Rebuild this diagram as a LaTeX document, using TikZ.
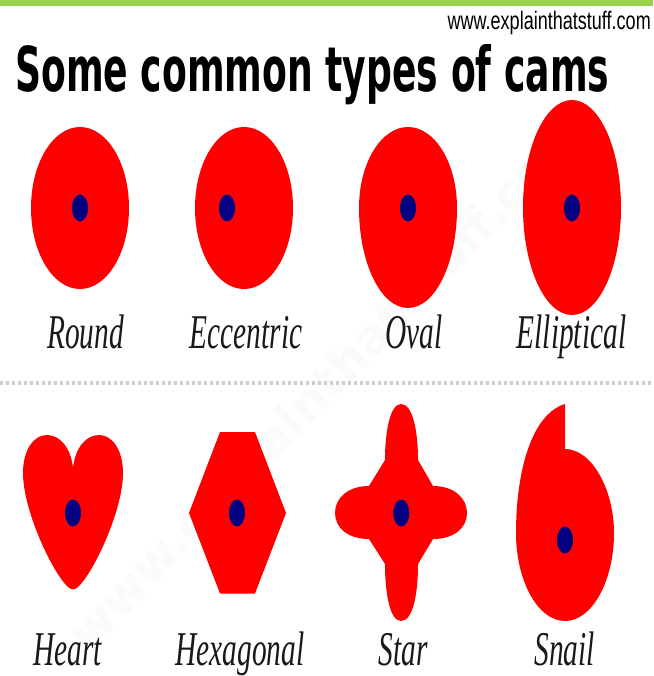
\documentclass[tikz,border=0pt]{standalone}
\usepackage{graphicx}
\usepackage{fontspec}
\setmainfont{Liberation Serif}
\newfontfamily\titlefont{DejaVu Sans}
\newfontfamily\urlfont{Liberation Sans}
\definecolor{camred}{RGB}{255,0,0}
\definecolor{hubblue}{RGB}{0,0,128}
\definecolor{topgreen}{RGB}{151,211,75}
\definecolor{markgrey}{RGB}{249,251,250}
\definecolor{sepgrey}{RGB}{205,205,205}
\newcommand{\lab}[1]{\scalebox{0.89}[1.47]{\fontsize{33}{33}\selectfont\itshape #1}}
\tikzset{
  camshape/.style={fill=camred,draw=none},
  hub/.style={fill=hubblue,draw=none},
  camlabel/.style={inner sep=0pt,anchor=base,black!90}
}
\begin{document}
\begin{tikzpicture}[x=1pt,y=-1pt]
\useasboundingbox (0,0) rectangle (653,676);
\fill[white] (0,0) rectangle (653,676);
\node[rotate=46,text=markgrey,inner sep=0pt] (wm) at (330,385) {\resizebox{720pt}{!}{\titlefont\bfseries www.explainthatstuff.com}};
\fill[topgreen] (0,0) rectangle (653,6);
\node[anchor=east,inner sep=0pt] (url) at (651,23) {\scalebox{0.82}[1.15]{\urlfont\fontsize{22}{22}\selectfont www.explainthatstuff.com}};
\node[anchor=base west,inner sep=0pt] (title) at (15,92) {\resizebox{594pt}{47pt}{\titlefont\bfseries\fontsize{44}{44}\selectfont Some common types of cams}};
% round
\fill[camshape] (80,208) ellipse [x radius=49,y radius=81];
\fill[hub] (80,208) ellipse [x radius=8,y radius=13.5];
\node[camlabel] (l1) at (85.5,348) {\lab{Round}};
% eccentric
\fill[camshape] (244,208) ellipse [x radius=49,y radius=81];
\fill[hub] (227,208) ellipse [x radius=8,y radius=13.5];
\node[camlabel] (l2) at (246,348) {\lab{Eccentric}};
% oval
\fill[camshape] (359,208) arc [start angle=180,end angle=360,x radius=49,y radius=81]
  arc [start angle=0,end angle=180,x radius=49,y radius=100] -- cycle;
\fill[hub] (408,208) ellipse [x radius=8,y radius=13.5];
\node[camlabel] (l3) at (414,348) {\lab{Oval}};
% elliptical
\fill[camshape] (572,207.5) ellipse [x radius=49,y radius=107.5];
\fill[hub] (572,208) ellipse [x radius=8,y radius=13.5];
\node[camlabel] (l4) at (571.5,348) {\lab{Elliptical}};
% separator
\draw[sepgrey,line width=4pt,dash pattern=on 3pt off 3pt] (0,383) -- (653,383);
% heart
\fill[camshape] (73,468)
  .. controls (71,448) and (60,435) .. (47,435)
  .. controls (33,435) and (23,451) .. (23,473)
  .. controls (23,510) and (52,572) .. (68,587)
  .. controls (71,590) and (75,590) .. (78,587)
  .. controls (94,572) and (123,510) .. (123,473)
  .. controls (123,451) and (113,435) .. (99,435)
  .. controls (86,435) and (75,448) .. (73,468) -- cycle;
\fill[hub] (73,513) ellipse [x radius=8,y radius=13.5];
\node[camlabel] (l5) at (67.5,665) {\lab{Heart}};
% hexagon
\fill[camshape] (220,432) -- (255,432) -- (286,513) -- (255,593.5) -- (220,593.5) -- (189,513) -- cycle;
\fill[hub] (237,513) ellipse [x radius=8,y radius=13.5];
\node[camlabel] (l6) at (240,665) {\lab{Hexagonal}};
% star
\fill[camshape] (385,460)
  .. controls (385,432) and (390,404) .. (401,404)
  .. controls (413,404) and (418,432) .. (418,460)
  -- (433,486)
  .. controls (454,486) and (467,498) .. (467,513)
  .. controls (467,528) and (454,539) .. (433,539)
  -- (418,564)
  .. controls (418,594) and (413,621) .. (401,621)
  .. controls (390,621) and (385,594) .. (385,564)
  -- (369,539)
  .. controls (348,539) and (335,528) .. (335,513)
  .. controls (335,498) and (348,486) .. (369,486)
  -- cycle;
\fill[hub] (401.3,513) ellipse [x radius=8,y radius=13.5];
\node[camlabel] (l7) at (403,665) {\lab{Star}};
% snail
\fill[camshape] (565,404) -- (565,449)
  .. controls (592,449) and (614,490) .. (614,533)
  .. controls (614,581) and (592,621) .. (565,621)
  .. controls (538,621) and (516,581) .. (516,533)
  .. controls (516,470) and (532,414) .. (565,404) -- cycle;
\fill[hub] (565,540) ellipse [x radius=8,y radius=13.5];
\node[camlabel] (l8) at (564.5,665) {\lab{Snail}};
\end{tikzpicture}
\end{document}
